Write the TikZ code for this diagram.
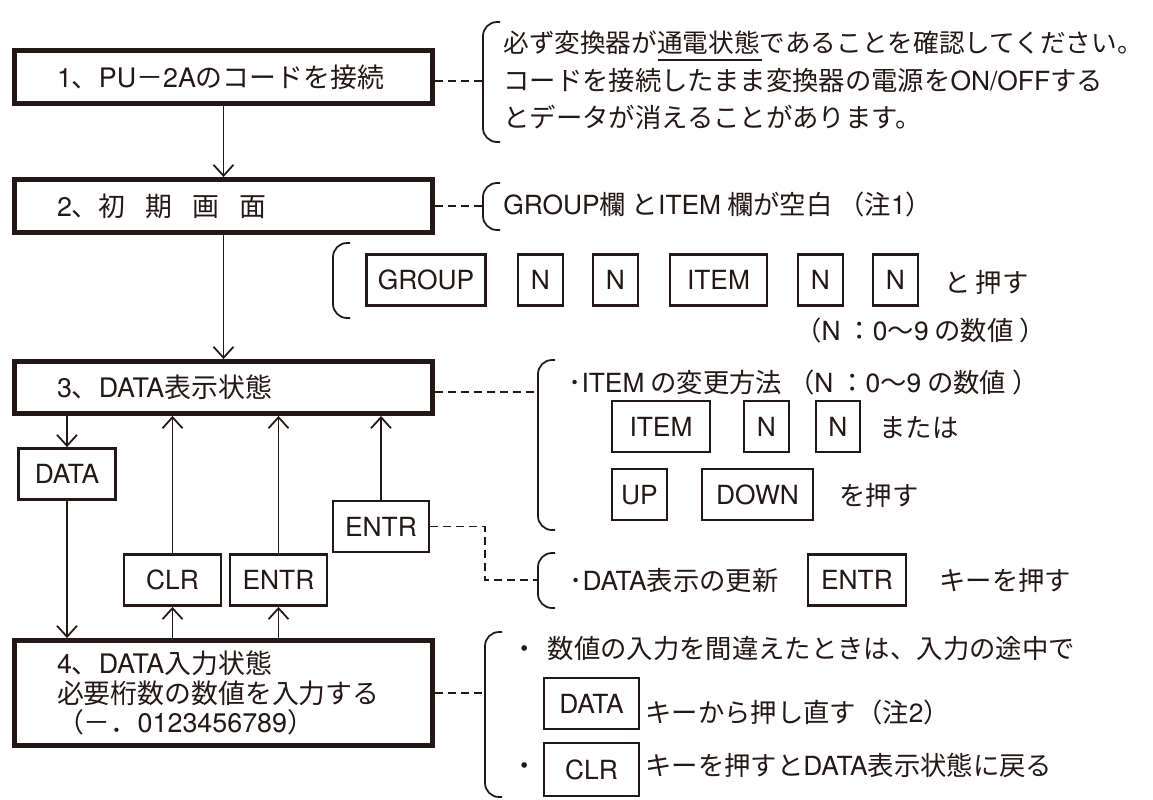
\documentclass[tikz,border=0pt]{standalone}
\usepackage{fontspec}
\setmainfont{Noto Sans CJK JP}
\newfontfamily\lat{TeX Gyre Heros}
\usetikzlibrary{arrows.meta,calc}
\definecolor{ink}{HTML}{231815}
\newcommand{\txtsize}{\fontsize{15pt}{17pt}\selectfont}
\newcommand{\boxsize}{\fontsize{15.3pt}{17pt}\selectfont}

\begin{document}
\begin{tikzpicture}[x=0.02cm,y=-0.02cm,
    every node/.style={text=ink},
    stepbox/.style={draw=ink,line width=2.8pt,minimum width=8.36cm,text width=6.66cm,inner xsep=0.85cm,inner ysep=0pt,align=left,font=\boxsize},
    keybox/.style={draw=ink,line width=1.6pt,minimum height=1.02cm,inner sep=0pt,font=\lat\txtsize,text height=0.38cm,text depth=0pt},
    note/.style={anchor=west,inner sep=0pt,font=\txtsize,text height=13.2pt,text depth=1.8pt},
    flow/.style={draw=ink,line width=1pt,-{Straight Barb[length=0.22cm,width=0.4cm]}},
    link/.style={draw=ink,line width=1pt,dash pattern=on 0.16cm off 0.1cm},
    bracket/.style={draw=ink,line width=1pt,rounded corners=0.28cm}]
    \useasboundingbox (0,0) rectangle (1153,799);

    % steps
    \node[stepbox,minimum height=1.06cm] (step1) at (223.5,77) {{\lat 1}、{\lat PU}－{\lat 2A}のコードを接続};
    \node[stepbox,minimum height=1.06cm] (step2) at (223.5,206) {{\lat 2}、初\hspace{0.4cm}期\hspace{0.4cm}画\hspace{0.4cm}面};
    \node[stepbox,minimum height=1.04cm] (step3) at (223.5,387.5) {{\lat 3}、{\lat DATA}表示状態};
    \node[stepbox,minimum height=2.1cm] (step4) at (223.5,693) {{\lat 4}、{\lat DATA}入力状態\\必要桁数の数値を入力する\\（－．{\lat 0123456789}）};

    % keys between the steps
    \node[keybox,minimum width=1.94cm] (kdata) at (67,474) {DATA};
    \node[keybox,minimum width=1.92cm] (kentra) at (381,526.5) {ENTR};
    \node[keybox,minimum width=1.94cm] (kclr) at (172.5,580) {CLR};
    \node[keybox,minimum width=1.94cm] (kentrb) at (278.5,580) {ENTR};

    \draw[flow] (step1) -- (step2);
    \draw[flow] (step2) -- (step3);
    \draw[flow] (kdata |- step3.south) -- (kdata.north);
    \draw[flow] (kdata.south) -- (kdata |- step4.north);
    \draw[flow] (kclr |- step4.north) -- (kclr.south);
    \draw[flow] (kclr.north) -- (kclr |- step3.south);
    \draw[flow] (kentrb |- step4.north) -- (kentrb.south);
    \draw[flow] (kentrb.north) -- (kentrb |- step3.south);
    \draw[flow] (kentra.north) -- (kentra |- step3.south);

    % brackets
    \coordinate (b1) at (483,81);
    \coordinate (b2) at (483,206);
    \coordinate (b3) at (538,392);
    \coordinate (b5) at (538,580);
    \coordinate (b4) at (485,693);
    \coordinate (turn) at (485,580);
    \draw[bracket] (500,22) -- (483,22) -- (483,142) -- (500,142);
    \draw[bracket] (500,183) -- (483,183) -- (483,230) -- (500,230);
    \draw[bracket] (350,243) -- (333,243) -- (333,318) -- (350,318);
    \draw[bracket] (555,360) -- (538,360) -- (538,530) -- (555,530);
    \draw[bracket] (555,553) -- (538,553) -- (538,608) -- (555,608);
    \draw[bracket] (502,632) -- (485,632) -- (485,797) -- (502,797);

    \draw[link] (step1.east |- b1) -- (b1);
    \draw[link] (step2.east) -- (b2);
    \draw[link] (step3.east |- b3) -- (b3);
    \draw[link] (step4.east) -- (b4);
    \draw[link] (kentra.east) -| (turn) -- (b5);

    % notes for step 1 and 2
    \node[note,font=\fontsize{14.6pt}{17pt}\selectfont] (n1a) at (503,42) {必ず変換器が通電状態であることを確認してください。};
    \node[note] (n1b) at (503,80) {コードを接続したまま変換器の電源を{\lat ON/OFF}する};
    \node[note] (n1c) at (503,117) {とデータが消えることがあります。};
    \draw[ink,line width=1.3pt] (658,60) -- (762,60);
    \node[note] (n2) at (503,204) {{\lat GROUP}欄 と{\lat ITEM} 欄が空白 （注{\lat 1}）};

    % GROUP N N ITEM N N
    \node[keybox,minimum width=2.38cm] (kgroup) at (426,280) {GROUP};
    \node[keybox,minimum width=0.9cm] (kna) at (540.5,280) {N};
    \node[keybox,minimum width=0.9cm] (knb) at (615.5,280) {N};
    \node[keybox,minimum width=1.94cm] (kitema) at (718.5,280) {ITEM};
    \node[keybox,minimum width=0.9cm] (knc) at (820.5,280) {N};
    \node[keybox,minimum width=0.9cm] (knd) at (895.5,280) {N};
    \node[note] (press1) at (944,282) {と\hspace{0.1cm}押す};
    \node[note] (range1) at (795,330) {（{\lat N} ：{\lat 0}～{\lat 9} の数値 ）};

    % notes for step 3
    \node[note] (n3) at (568,382) {･{\lat ITEM} の変更方法 （{\lat N} ：{\lat 0}～{\lat 9} の数値 ）};
    \node[keybox,minimum width=1.96cm] (kitemb) at (661,426.5) {ITEM};
    \node[keybox,minimum width=0.9cm] (kne) at (766.5,426.5) {N};
    \node[keybox,minimum width=0.88cm] (knf) at (838,426.5) {N};
    \node[note] (n3b) at (879,427) {または};
    \node[keybox,minimum width=1.1cm] (kup) at (639.5,494.5) {UP};
    \node[keybox,minimum width=2.22cm] (kdown) at (757.5,494.5) {DOWN};
    \node[note] (n3c) at (839,495) {を押す};

    \node[note] (n5) at (569,580) {･{\lat DATA}表示の更新};
    \node[keybox,minimum width=1.96cm] (kentrc) at (857,580) {ENTR};
    \node[note] (n5b) at (939,580) {キーを押す};

    % notes for step 4
    \node[note] (n4a) at (511,648) {・\hspace{0.2cm}数値の入力を間違えたときは、入力の途中で};
    \node[keybox,minimum width=1.9cm] (kdatab) at (591.5,703.5) {DATA};
    \node[note] (n4b) at (645,712) {キーから押し直す（注{\lat 2}）};
    \node[note] (dot4) at (511,765) {・};
    \node[keybox,minimum width=1.9cm,minimum height=1.06cm] (kclrb) at (591.5,769.5) {CLR};
    \node[note] (n4c) at (645,765) {キーを押すと{\lat DATA}表示状態に戻る};
\end{tikzpicture}
\end{document}
